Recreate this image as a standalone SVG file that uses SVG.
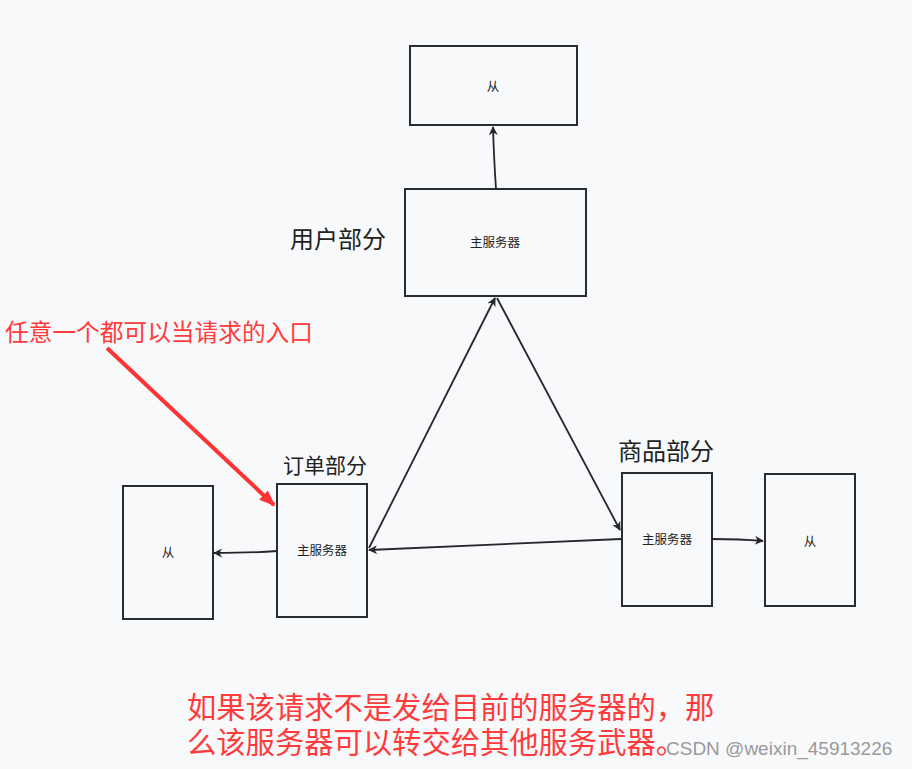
<svg xmlns="http://www.w3.org/2000/svg" width="912" height="769" viewBox="0 0 912 769">
<style>
.box{fill:#f8f9fb;stroke:#2a2c33;stroke-width:2}
.t{font-family:"Noto Sans CJK SC","Noto Sans",sans-serif;fill:#222;text-anchor:middle}
.s{font-size:12.5px}
.lab{font-family:"Noto Sans CJK SC",sans-serif;fill:#222}
.red{font-family:"Noto Sans CJK SC",sans-serif;fill:#ff3b3b}
.c{fill:none;stroke:#25272d;stroke-width:1.8}
</style>
<defs>
<marker id="ah" viewBox="0 0 10 10" refX="9" refY="5" markerWidth="9" markerHeight="9" orient="auto" markerUnits="userSpaceOnUse">
<path d="M0,0 L10,5 L0,10 L3,5 Z" fill="#25272d"/>
</marker>
<marker id="rh" viewBox="0 0 10 10" refX="9" refY="5" markerWidth="16" markerHeight="16" orient="auto" markerUnits="userSpaceOnUse">
<path d="M0,1 L10,5 L0,9 Z" fill="#ff3333"/>
</marker>
</defs>
<rect width="912" height="769" fill="#f8f9fb"/>
<g id="user-slave"><rect class="box" x="410" y="46" width="167" height="79"/><text class="t s" x="493" y="91">从</text></g>
<g id="user-master"><rect class="box" x="405" y="189" width="181" height="107"/><text class="t s" x="495" y="247">主服务器</text></g>
<g id="order-slave"><rect class="box" x="123" y="486" width="90" height="133"/><text class="t s" x="168" y="557">从</text></g>
<g id="order-master"><rect class="box" x="277" y="484" width="90" height="133"/><text class="t s" x="322" y="555">主服务器</text></g>
<g id="product-master"><rect class="box" x="622" y="473" width="90" height="133"/><text class="t s" x="667" y="544">主服务器</text></g>
<g id="product-slave"><rect class="box" x="765" y="474" width="90" height="132"/><text class="t s" x="810" y="546">从</text></g>
<g id="labels">
<text class="lab" x="290" y="248" font-size="24">用户部分</text>
<text class="lab" x="283" y="473" font-size="21">订单部分</text>
<text class="lab" x="618" y="460" font-size="24">商品部分</text>
</g>
<g id="connectors">
<path class="c" d="M496,189 Q494,160 493,127" marker-end="url(#ah)"/>
<path class="c" d="M369,548 L495,298" marker-end="url(#ah)"/>
<path class="c" d="M497,298 L620,530" marker-end="url(#ah)"/>
<path class="c" d="M621,539 L369,550" marker-end="url(#ah)"/>
<path class="c" d="M277,551 Q250,553 214,553" marker-end="url(#ah)"/>
<path class="c" d="M712,539 Q740,539 763,541" marker-end="url(#ah)"/>
<path d="M107,348 L274,505" stroke="#ff3333" stroke-width="4" fill="none" marker-end="url(#rh)"/>
</g>
<g id="notes">
<text class="red" x="5" y="341" font-size="23.7">任意一个都可以当请求的入口</text>
<text class="red" x="187" y="718" font-size="29.3">如果该请求不是发给目前的服务器的，那</text>
<text class="red" x="187" y="753" font-size="29.3">么该服务器可以转交给其他服务武器。</text>
<text x="666" y="755" font-family="Liberation Sans,sans-serif" font-size="19" fill="#9a9a9a">CSDN @weixin_45913226</text>
</g>
</svg>
